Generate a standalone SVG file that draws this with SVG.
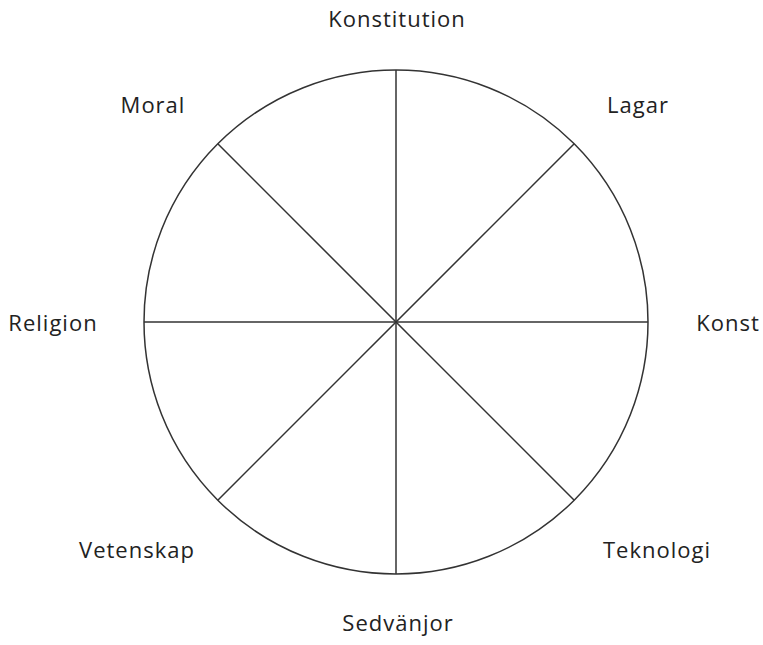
<svg xmlns="http://www.w3.org/2000/svg" width="763" height="645" viewBox="0 0 763 645">
<style>
.l{stroke:#333;stroke-width:1.5;fill:none}
text{font-family:"Open Sans","Noto Sans",sans-serif;font-size:22px;letter-spacing:1px;fill:#222;text-anchor:middle}
</style>
<rect width="763" height="645" fill="#fff"/>
<g id="connectors">
<line class="l" x1="396" y1="70" x2="396" y2="574"/>
<line class="l" x1="144" y1="322" x2="648" y2="322"/>
<line class="l" x1="217.8" y1="143.8" x2="574.2" y2="500.2"/>
<line class="l" x1="574.2" y1="143.8" x2="217.8" y2="500.2"/>
</g>
<g id="wheel"><circle class="l" cx="396" cy="322" r="252"/></g>
<g id="konstitution"><text x="397" y="27">Konstitution</text></g>
<g id="lagar"><text x="638" y="113">Lagar</text></g>
<g id="konst"><text x="728" y="331">Konst</text></g>
<g id="teknologi"><text x="657" y="558">Teknologi</text></g>
<g id="sedvanjor"><text x="398" y="631">Sedvänjor</text></g>
<g id="vetenskap"><text x="137" y="558">Vetenskap</text></g>
<g id="religion"><text x="53" y="331">Religion</text></g>
<g id="moral"><text x="153" y="113">Moral</text></g>
</svg>
